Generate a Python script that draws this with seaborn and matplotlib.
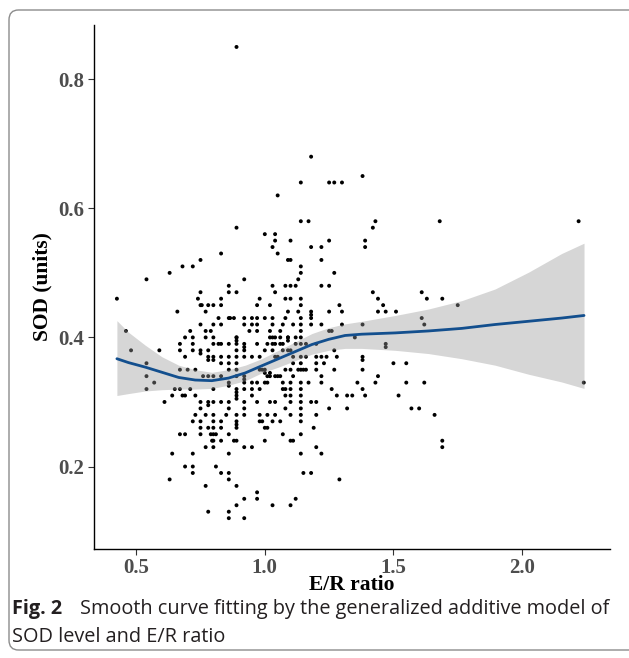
import numpy as np
import matplotlib
matplotlib.use("Agg")
import matplotlib.pyplot as plt
import seaborn as sns
from matplotlib.patches import FancyBboxPatch

# -----------------------------
# DATA
# -----------------------------
er_ratio = [
    0.89, 1.18, 1.38, 1.14, 1.25, 1.27, 1.30, 1.05,
    1.14, 1.17, 1.43, 1.68, 2.22, 1.42, 0.89, 1.00, 1.04,
    1.04, 1.03, 1.10, 1.25, 1.39, 1.39, 1.18, 1.22, 1.05,
    1.22, 1.10, 1.09, 1.14, 0.75, 0.83, 0.68, 0.72, 0.63, 0.54, 1.14, 1.27,
    0.425, 0.92, 1.10, 1.12, 1.13, 1.22, 1.25, 0.86, 0.86, 1.03, 1.04, 1.08, 0.89, 0.75,
    0.74, 0.75, 0.755, 0.78, 0.80, 0.83, 0.83, 0.98, 0.97, 1.02, 1.08, 1.10, 1.14, 1.13, 1.14, 1.18, 1.18, 1.29, 1.30,
    1.42, 1.44, 1.46, 1.44, 1.47, 1.61, 1.63, 1.69, 1.75,
    0.66, 0.77, 0.82, 0.86, 0.865, 0.88, 0.83, 0.95, 0.97, 0.97, 1.00, 0.92, 0.92, 0.95,
    1.03, 1.03, 1.07, 1.08, 1.09, 1.11, 1.14, 1.14, 1.14, 1.14, 1.18, 1.18, 1.25, 1.22, 1.25, 1.26, 1.30, 1.38, 1.51, 1.61, 1.62,
    0.75, 0.79, 0.80, 0.71, 0.72, 0.69, 0.77, 0.77, 0.80, 0.89, 0.89, 0.94, 0.97, 1.02, 1.02, 1.03, 1.04, 1.06, 1.06, 1.09, 1.09, 1.12,
    0.67, 0.72, 0.72, 0.75, 0.75, 0.78, 0.80, 0.82, 0.83, 0.86, 0.89, 0.89, 0.89, 0.92, 0.92, 0.92,
    0.97, 1.01, 1.03, 1.04, 1.06, 1.07, 1.07, 1.09, 1.12, 1.14, 1.16, 1.20, 1.27, 1.35, 1.47, 1.47,
    0.59, 0.46, 0.48, 0.67, 0.69, 0.78, 0.78, 0.80, 0.80, 0.83, 0.83, 0.86, 0.89, 0.92, 0.86, 0.89, 0.95, 0.98,
    1.00, 1.03, 1.04, 1.05, 1.09, 1.10, 1.11, 1.11, 1.14, 1.14, 1.16, 1.20, 1.20, 1.22, 1.23, 1.24, 1.28, 1.38, 1.38, 1.38, 1.50, 1.55,
    0.54, 0.54, 0.54, 0.57, 0.67, 0.70, 0.73, 0.76, 0.78, 0.80, 0.83, 0.86, 0.89, 0.92, 0.92, 0.89,
    0.98, 0.99, 1.00, 1.00, 1.02, 1.01, 1.02, 1.04, 1.05, 1.06, 1.08, 1.10, 1.11, 1.13, 1.14, 1.15, 1.16, 1.20, 1.22, 1.27, 1.44, 1.55, 1.62, 2.24,
    0.80, 0.86, 0.86, 0.89, 0.89, 0.92, 0.92, 0.95, 0.95, 0.97, 1.01, 1.07, 1.08, 1.10, 1.10, 1.14, 1.14, 1.17, 1.22, 1.26, 1.36, 1.43,
    0.65, 0.67, 0.68, 0.69, 0.71, 0.73, 0.61, 0.64, 0.75, 0.78, 0.78, 0.83, 0.86, 0.89, 0.89, 0.92, 0.92, 0.95,
    0.98, 1.00, 1.02, 1.04, 1.07, 1.08, 1.10, 1.10, 1.14, 1.14, 1.18, 1.20, 1.28, 1.32, 1.34, 1.38, 1.39, 1.52,
    0.75, 0.80, 0.86, 0.97, 1.14, 1.25, 1.32, 1.57, 1.60, 1.66,
    0.73, 0.77, 0.80, 0.85, 0.89, 0.89, 0.92, 0.98, 1.01, 1.04, 1.08, 1.10, 1.14, 1.14, 1.20,
    0.72, 0.75, 0.75, 0.75, 0.78, 0.80, 0.80, 0.83, 0.83, 0.89, 0.89, 0.98, 0.99, 1.01, 1.03, 1.06, 1.00, 1.19,
    0.67, 0.69, 0.79, 0.80, 0.81, 0.86, 0.88, 1.07, 1.14, 0.795, 0.80, 0.83, 0.89, 1.00, 1.10, 1.11,
    0.77, 0.80, 0.92, 0.95, 1.20, 1.69, 1.69, 0.64, 0.72, 0.86, 1.14, 1.22,
    0.69, 0.72, 0.72, 0.81, 0.83, 0.86, 0.86, 0.63, 1.15, 1.18, 1.29,
    0.77, 0.89, 0.97, 0.97, 0.92, 0.89, 1.03, 1.10, 1.12, 0.78, 0.86, 0.86, 0.92,
]

sod = [
    0.85, 0.68, 0.65, 0.64, 0.64, 0.64, 0.64, 0.62,
    0.58, 0.58, 0.58, 0.58, 0.58, 0.57, 0.57, 0.56, 0.56,
    0.55, 0.54, 0.55, 0.55, 0.55, 0.54, 0.54, 0.54, 0.53,
    0.52, 0.52, 0.52, 0.51, 0.52, 0.53, 0.51, 0.51, 0.50, 0.49, 0.50, 0.50,
    0.46, 0.49, 0.48, 0.48, 0.49, 0.48, 0.48, 0.48, 0.47, 0.48, 0.47, 0.48, 0.47, 0.47,
    0.46, 0.45, 0.45, 0.45, 0.45, 0.45, 0.46, 0.46, 0.45, 0.45, 0.46, 0.46, 0.46, 0.44, 0.45, 0.44, 0.435, 0.45, 0.44,
    0.47, 0.46, 0.45, 0.44, 0.44, 0.47, 0.46, 0.46, 0.45,
    0.44, 0.44, 0.43, 0.43, 0.43, 0.43, 0.42, 0.43, 0.43, 0.42, 0.43, 0.43, 0.42, 0.42,
    0.43, 0.42, 0.42, 0.43, 0.44, 0.42, 0.43, 0.42, 0.41, 0.40, 0.43, 0.42, 0.44, 0.42, 0.41, 0.41, 0.42, 0.42, 0.44, 0.43, 0.42,
    0.42, 0.41, 0.42, 0.41, 0.40, 0.40, 0.41, 0.40, 0.40, 0.40, 0.395, 0.41, 0.41, 0.41, 0.40, 0.40, 0.40, 0.41, 0.40, 0.40, 0.395, 0.40,
    0.39, 0.39, 0.38, 0.38, 0.375, 0.38, 0.39, 0.39, 0.39, 0.39, 0.40, 0.39, 0.38, 0.39, 0.385, 0.38,
    0.39, 0.39, 0.39, 0.39, 0.39, 0.39, 0.38, 0.40, 0.39, 0.39, 0.39, 0.39, 0.38, 0.40, 0.39, 0.385,
    0.38, 0.41, 0.38, 0.38, 0.37, 0.37, 0.365, 0.37, 0.365, 0.37, 0.36, 0.37, 0.37, 0.37, 0.36, 0.36, 0.37, 0.37,
    0.38, 0.38, 0.37, 0.37, 0.38, 0.38, 0.37, 0.36, 0.37, 0.36, 0.37, 0.37, 0.36, 0.37, 0.36, 0.37, 0.37, 0.37, 0.365, 0.35, 0.36, 0.36,
    0.36, 0.34, 0.32, 0.33, 0.35, 0.35, 0.35, 0.34, 0.34, 0.34, 0.34, 0.35, 0.35, 0.34, 0.335, 0.34,
    0.35, 0.35, 0.35, 0.345, 0.34, 0.34, 0.345, 0.34, 0.34, 0.34, 0.35, 0.35, 0.34, 0.35, 0.35, 0.35, 0.35, 0.35, 0.34, 0.35, 0.34, 0.33, 0.33, 0.33,
    0.32, 0.33, 0.325, 0.32, 0.315, 0.33, 0.32, 0.33, 0.32, 0.33, 0.33, 0.33, 0.32, 0.33, 0.32, 0.33, 0.32, 0.33, 0.33, 0.32, 0.33, 0.33,
    0.32, 0.32, 0.31, 0.31, 0.32, 0.31, 0.30, 0.31, 0.30, 0.30, 0.295, 0.30, 0.30, 0.31, 0.305, 0.30, 0.29, 0.31,
    0.32, 0.33, 0.30, 0.30, 0.32, 0.31, 0.31, 0.30, 0.31, 0.30, 0.30, 0.30, 0.31, 0.31, 0.31, 0.32, 0.31, 0.31,
    0.29, 0.30, 0.29, 0.30, 0.29, 0.29, 0.29, 0.29, 0.29, 0.28,
    0.28, 0.28, 0.28, 0.28, 0.28, 0.27, 0.28, 0.28, 0.28, 0.28, 0.29, 0.28, 0.28, 0.27, 0.28,
    0.27, 0.27, 0.26, 0.25, 0.26, 0.27, 0.26, 0.27, 0.26, 0.265, 0.26, 0.27, 0.27, 0.26, 0.27, 0.27, 0.26, 0.26,
    0.25, 0.25, 0.25, 0.25, 0.25, 0.25, 0.24, 0.25, 0.25, 0.24, 0.24, 0.24, 0.24, 0.24, 0.24, 0.24,
    0.23, 0.23, 0.23, 0.23, 0.23, 0.24, 0.23, 0.22, 0.22, 0.22, 0.22, 0.22,
    0.20, 0.20, 0.19, 0.20, 0.19, 0.19, 0.18, 0.18, 0.19, 0.19, 0.18,
    0.17, 0.17, 0.16, 0.15, 0.15, 0.14, 0.14, 0.14, 0.15, 0.13, 0.13, 0.12, 0.12,
]
assert len(er_ratio) == len(sod)

# GAM fit and 95% band
fit_x = [0.425, 0.47, 0.535, 0.60, 0.665, 0.729, 0.794, 0.859, 0.924, 0.988, 1.053,
         1.118, 1.183, 1.248, 1.312, 1.377, 1.507, 1.636, 1.766, 1.895, 2.025, 2.154, 2.241]
fit_y = [0.367, 0.361, 0.354, 0.346, 0.338, 0.334, 0.333, 0.337, 0.345, 0.356, 0.367,
         0.378, 0.389, 0.397, 0.403, 0.405, 0.407, 0.410, 0.414, 0.420, 0.425, 0.430, 0.434]
fit_hi = [0.426, 0.408, 0.388, 0.370, 0.357, 0.350, 0.346, 0.350, 0.357, 0.367, 0.380,
          0.393, 0.406, 0.415, 0.421, 0.425, 0.434, 0.444, 0.457, 0.475, 0.501, 0.530, 0.546]
fit_lo = [0.310, 0.313, 0.317, 0.319, 0.320, 0.320, 0.321, 0.326, 0.333, 0.345, 0.354,
          0.364, 0.374, 0.380, 0.383, 0.383, 0.380, 0.375, 0.367, 0.357, 0.343, 0.331, 0.321]

x_ticks = [0.5, 1.0, 1.5, 2.0]
y_ticks = [0.2, 0.4, 0.6, 0.8]

# -----------------------------
# PLOT
# -----------------------------
sns.set_theme(style="ticks")

W, H = 629, 658
fig = plt.figure(figsize=(W / 100, H / 100), dpi=100)
ax = fig.add_axes([93.5 / W, 1 - 548.5 / H, (610 - 93.5) / W, (548.5 - 25) / H])

sns.scatterplot(x=er_ratio, y=sod, ax=ax, s=8, color="black",
                edgecolor="none", linewidth=0, zorder=2)
ax.fill_between(fit_x, fit_lo, fit_hi, color="#999999", alpha=0.4,
                linewidth=0, zorder=3)
sns.lineplot(x=fit_x, y=fit_y, ax=ax, color="#134f8e", linewidth=2.0,
             zorder=4, sort=False)

ax.set_xlim(0.334, 2.342)
ax.set_ylim(0.073, 0.884)
ax.set_xticks(x_ticks)
ax.set_yticks(y_ticks)
ax.set_xticklabels([f"{v:.1f}" for v in x_ticks])
ax.set_yticklabels([f"{v:.1f}" for v in y_ticks])

serif = ["Liberation Serif", "DejaVu Serif"]
for lab in ax.get_xticklabels() + ax.get_yticklabels():
    lab.set_fontfamily(serif)
    lab.set_fontweight("bold")
    lab.set_fontsize(15)
    lab.set_color("#4d4d4d")
ax.tick_params(axis="both", length=4, width=0.8, color="#333333", pad=3)

sns.despine(ax=ax)
for side in ["left", "bottom"]:
    ax.spines[side].set_color("black")
    ax.spines[side].set_linewidth(1.0)

ax.set_xlabel("E/R ratio", fontfamily=serif, fontweight="bold",
              fontsize=15.5, color="black", labelpad=-2)
ax.set_ylabel("SOD (units)", fontfamily=serif, fontweight="bold",
              fontsize=15.5, color="black", labelpad=4)

# caption + rounded frame like the journal figure box
cap_font = "Open Sans"
fig.text(12 / W, 1 - 609 / H, "Fig. 2", fontfamily=cap_font,
         fontweight="bold", fontsize=14.3, color="#231f20", va="center")
fig.text(80 / W, 1 - 609 / H,
         "Smooth curve fitting by the generalized additive model of",
         fontfamily=cap_font, fontsize=14.3, color="#231f20", va="center")
fig.text(12 / W, 1 - 637 / H, "SOD level and E/R ratio",
         fontfamily=cap_font, fontsize=14.3, color="#231f20", va="center")

frame = FancyBboxPatch((9 / W, 8 / H), 700 / W, 640 / H,
                       boxstyle="round,pad=0,rounding_size=0.015",
                       transform=fig.transFigure, fill=False,
                       edgecolor="#8c8c8c", linewidth=1.0, clip_on=False)
fig.patches.append(frame)

fig.savefig("out.png", dpi=100)
